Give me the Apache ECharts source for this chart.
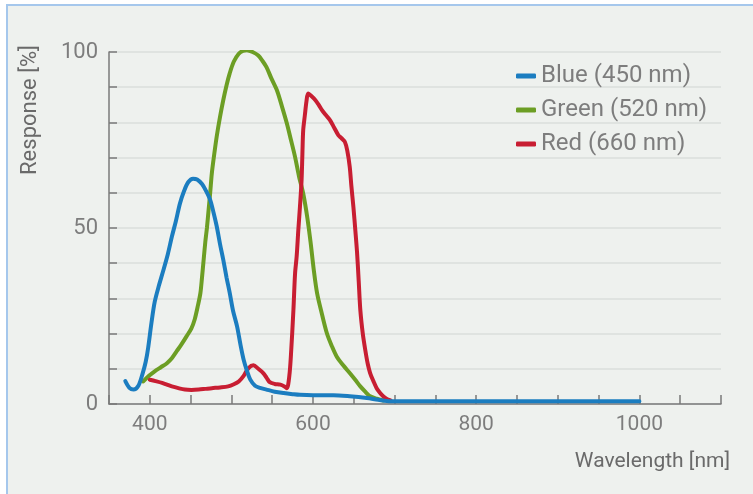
<!DOCTYPE html>
<html>
<head>
<meta charset="utf-8">
<script src="https://cdn.jsdelivr.net/npm/echarts@6/dist/echarts.min.js"></script>
<style>
html, body { margin: 0; padding: 0; background: #fff; }
#chart { width: 753px; height: 494px; }
</style>
</head>
<body>
<div id="chart"></div>
<script>
// spectral response curves, [wavelength nm, response %]
var blueData = [
	[370, 6.5], [375, 4.6], [380, 4.1], [386, 5.2], [391, 8.5], [395, 12], [398, 16], [402, 23], [406, 29],
	[411, 33.5], [416, 37.5], [422, 42.5], [427, 47.5], [432, 52], [437, 57], [442, 60.5], [447, 63],
	[453, 64], [458, 63.8], [464, 62.5], [469, 60.5], [474, 58], [478, 54.5], [482, 50.5], [486, 45.5],
	[490, 41], [494, 36], [498, 31.5], [502, 26.5], [507, 22], [511, 17], [515, 12.6], [519, 9.5],
	[523, 7], [529, 5.2], [535, 4.6], [543, 4.1], [553, 3.5], [564, 3.1], [575, 2.8], [584, 2.6],
	[600, 2.5], [625, 2.5], [645, 2.2], [666, 1.7], [680, 1.2], [695, 0.8], [720, 0.8], [800, 0.8],
	[900, 0.8], [1000, 0.8]
];
var greenData = [
	[392, 6.4], [399, 8], [406, 9.3], [414, 10.5], [421, 11.6], [427, 13], [433, 15], [439, 17],
	[445, 19.2], [451, 21.5], [455, 24], [459, 28], [462, 31.5], [464, 36], [466, 41], [468, 46],
	[470, 50], [472, 55], [474, 60], [476, 65.5], [479, 71], [482, 76], [486, 81.5], [490, 86.3],
	[494, 90.5], [498, 94], [503, 97.3], [509, 99.5], [514, 100.3], [519, 100.5], [526, 100],
	[533, 99], [538, 97.5], [543, 95.7], [549, 92.5], [556, 89], [562, 84.5], [568, 79.7], [573, 75],
	[578, 70.2], [583, 64.5], [588, 59.8], [593, 53], [597, 46], [601, 38], [605, 31.5], [611, 25.5],
	[617, 20.1], [623, 16.5], [629, 13.5], [637, 11], [645, 8.8], [652, 6.8], [658, 5], [664, 3.5],
	[670, 2.2], [678, 1.5], [686, 1.0]
];
var redData = [
	[400, 6.9], [407, 6.5], [415, 6], [421, 5.5], [427, 5], [435, 4.5], [443, 4.1], [451, 4],
	[460, 4.1], [468, 4.3], [476, 4.5], [486, 4.7], [496, 5], [503, 5.6], [509, 6.4], [515, 8],
	[521, 10.2], [527, 11], [533, 10], [539, 8.8], [543, 7.5], [547, 6.2], [553, 5.7], [560, 5.5],
	[565, 5], [568, 4.5], [571, 8], [573, 14], [576, 26.7], [578, 37], [580, 42], [582, 49.4],
	[584, 56], [586, 63.6], [587, 71], [588, 77.8], [590, 82], [592, 86], [594, 88.2], [598, 87.5],
	[603, 86.3], [607, 85], [611, 83.5], [616, 82], [621, 80.6], [626, 78.5], [631, 76.4],
	[635, 75.5], [639, 74.5], [642, 72], [645, 67.4], [647, 62], [649.5, 56], [652, 49], [654, 43],
	[656, 35], [658, 26.7], [661, 20], [664, 15.4], [667, 11.5], [670, 8.8], [674, 6.5], [678, 4.5],
	[682, 3.2], [686, 2.2], [690, 1.5], [695, 1.0]
];
var seriesNames = ['Blue (450 nm)', 'Green (520 nm)', 'Red (660 nm)'];
var xLabels = [400, 600, 800, 1000];
var yLabels = [0, 50, 100];

var textGray = '#7d7d7d';
var font = 'Roboto';

var myChart = echarts.init(document.getElementById('chart'));
var option = {
	backgroundColor: '#fff',
	animation: false,
	graphic: [{
		type: 'rect',
		z: -10,
		silent: true,
		shape: { x: 7, y: 5, width: 800, height: 600 },
		style: { fill: '#eef1ee', stroke: '#a5c7ec', lineWidth: 2 }
	}],
	grid: {
		left: 109,
		right: 32,
		top: 52,
		bottom: 90,
		outerBoundsMode: 'none'
	},
	legend: {
		orient: 'vertical',
		left: 511,
		top: 59,
		itemWidth: 20,
		itemHeight: 5,
		itemGap: 10,
		icon: 'roundRect',
		data: seriesNames,
		textStyle: { color: textGray, fontSize: 24, fontFamily: font, padding: [0, 0, 0, 0] }
	},
	xAxis: {
		type: 'value',
		min: 350,
		max: 1100,
		interval: 50,
		name: 'Wavelength [nm]',
		nameLocation: 'end',
		nameGap: 0,
		nameTextStyle: {
			color: '#6a6a6a', fontSize: 21, fontFamily: font,
			align: 'right', verticalAlign: 'top', padding: [47, -9, 0, 0]
		},
		axisLine: { lineStyle: { color: '#7a7a7a', width: 1.5 } },
		axisTick: { inside: true, length: 9, lineStyle: { color: '#7a7a7a', width: 1.5 } },
		axisLabel: {
			color: textGray, fontSize: 21, fontFamily: font, margin: 10,
			formatter: function(v) { return xLabels.indexOf(v) >= 0 ? v : ''; }
		},
		splitLine: { show: false }
	},
	yAxis: {
		type: 'value',
		min: 0,
		max: 100,
		interval: 10,
		name: 'Response [%]',
		nameLocation: 'middle',
		nameRotate: 90,
		nameGap: 79,
		nameTextStyle: {
			color: '#6a6a6a', fontSize: 22, fontFamily: font,
			verticalAlign: 'middle', padding: [0, 0, 0, 236]
		},
		axisLine: { show: true, lineStyle: { color: '#7a7a7a', width: 1.5 } },
		axisTick: { show: true, inside: true, length: 8, lineStyle: { color: '#7a7a7a', width: 1.5 } },
		axisLabel: {
			color: textGray, fontSize: 22, fontFamily: font, margin: 11,
			formatter: function(v) { return yLabels.indexOf(v) >= 0 ? v : ''; }
		},
		splitLine: { show: true, lineStyle: { color: '#dadedb', width: 1.5 } }
	},
	series: [{
		name: seriesNames[1],
		type: 'line',
		data: greenData,
		showSymbol: false,
		smooth: 0.3,
		color: '#6c9e24',
		lineStyle: { width: 4, cap: 'round' }
	}, {
		name: seriesNames[2],
		type: 'line',
		data: redData,
		showSymbol: false,
		smooth: 0.3,
		color: '#c81e32',
		lineStyle: { width: 4, cap: 'round' }
	}, {
		name: seriesNames[0],
		type: 'line',
		data: blueData,
		showSymbol: false,
		smooth: 0.3,
		color: '#1b7dc0',
		lineStyle: { width: 4, cap: 'round' }
	}]
};
myChart.setOption(option);
</script>
</body>
</html>
